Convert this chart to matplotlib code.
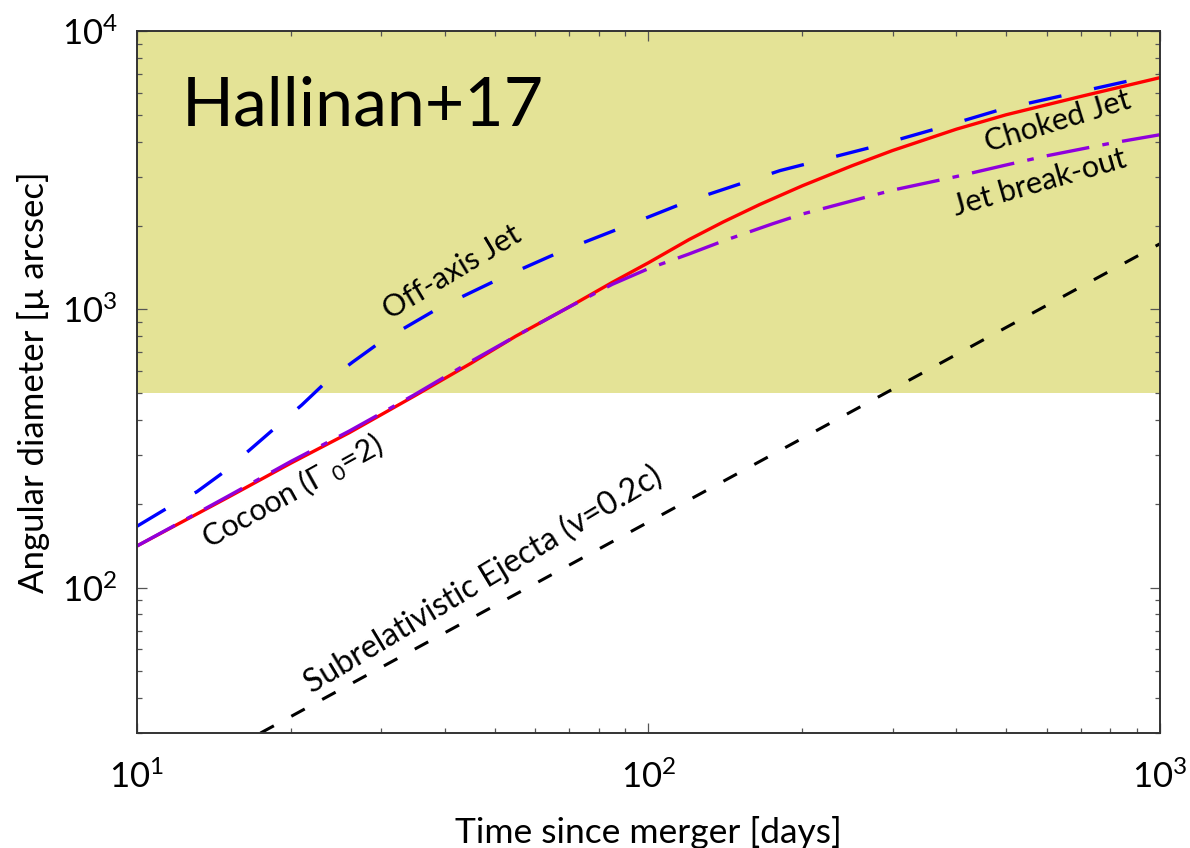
import numpy as np
from matplotlib import pyplot as plt

# Angular diameter of the GW170817 outflow models
# time since merger [days] and angular size [micro arcsec]
t_choked = [10, 15, 20, 26, 35, 45, 55, 70, 85, 100, 120, 140, 165, 200, 250, 300, 400, 500, 700, 1000]
d_choked = [141, 210, 280, 360, 490, 640, 800, 1020, 1250, 1470, 1780, 2060, 2380, 2780, 3280, 3720, 4440, 5000, 5820, 6800]

t_breakout = [10, 15, 20, 26, 35, 45, 55, 70, 85, 100, 120, 140, 175, 200, 260, 300, 400, 500, 600, 800, 1000]
d_breakout = [141, 212, 284, 365, 495, 650, 800, 1020, 1230, 1400, 1580, 1760, 2030, 2200, 2500, 2680, 3000, 3300, 3560, 3950, 4240]

t_offaxis = [10, 11.3, 13.1, 14.7, 16.6, 18.6, 21, 23.3, 26.4, 29.9, 39.1, 51.3, 68.1, 90.8, 120.5, 180.7, 271, 366, 493, 667, 1000]
d_offaxis = [166, 190, 221, 258, 312, 374, 453, 543, 646, 762, 1016, 1291, 1626, 2000, 2460, 3150, 3810, 4460, 5250, 5940, 7010]

t_ejecta = [10, 100, 1000]
d_ejecta = [17.2, 172, 1720]

resolution_limit = 500  # shaded region above this size

plt.rcParams['font.family'] = ['Lato', 'DejaVu Sans']
plt.rcParams['mathtext.fontset'] = 'custom'
plt.rcParams['mathtext.rm'] = 'Lato'
plt.rcParams['mathtext.it'] = 'Lato:italic'
plt.rcParams['mathtext.bf'] = 'Lato:bold'

fig = plt.figure(figsize=(11.9, 8.48), dpi=100)
ax = fig.add_axes([0.1151, 0.1356, 0.8597, 0.8278])

ax.set_xscale('log')
ax.set_yscale('log')
ax.set_xlim(10, 1000)
ax.set_ylim(30, 1e4)

ax.axhspan(resolution_limit, 1e4, color='#e4e396', lw=0, zorder=0)

ax.plot(t_ejecta, d_ejecta, color='black', lw=2.2, dashes=(5, 6.5))
ax.plot(t_offaxis, d_offaxis, color='#0000ff', lw=2.4, dashes=(10, 10))
ax.plot(t_choked, d_choked, color='#ff0000', lw=2.4)
ax.plot(t_breakout, d_breakout, color='#8f00dd', lw=2.4, dashes=(13, 4, 2, 4))

lab = dict(fontsize=22, ha='center', va='center', rotation_mode='anchor')
ax.text(41.3, 1358, 'Off-axis Jet', rotation=31, **lab)
ax.text(20.1, 221, r'Cocoon (Γ $_{0}$=2)', rotation=29, **lab)
ax.text(47.4, 107, 'Subrelativistic Ejecta (v=0.2c)', rotation=31,
        **dict(lab, fontsize=23))
ax.text(630, 4750, 'Choked Jet', rotation=17, **lab)
ax.text(582, 2850, 'Jet break-out', rotation=16, **lab)
ax.text(0.044, 0.866, 'Hallinan+17', transform=ax.transAxes, fontsize=49,
        ha='left', va='baseline')

ax.set_xlabel('Time since merger [days]', fontsize=25.5, labelpad=16)
ax.set_ylabel('Angular diameter [µ arcsec]', fontsize=25, labelpad=8)

ax.tick_params(which='both', direction='in', top=True, right=True,
               color='#555555', labelsize=25)
ax.tick_params(which='major', length=7.5, width=0.9)
ax.tick_params(which='minor', length=3.8, width=0.9)
ax.tick_params(axis='x', pad=19)
ax.tick_params(axis='y', pad=14)
for s in ax.spines.values():
    s.set_color('#333333')
    s.set_linewidth(1.4)

plt.savefig('out.png', dpi=100)
